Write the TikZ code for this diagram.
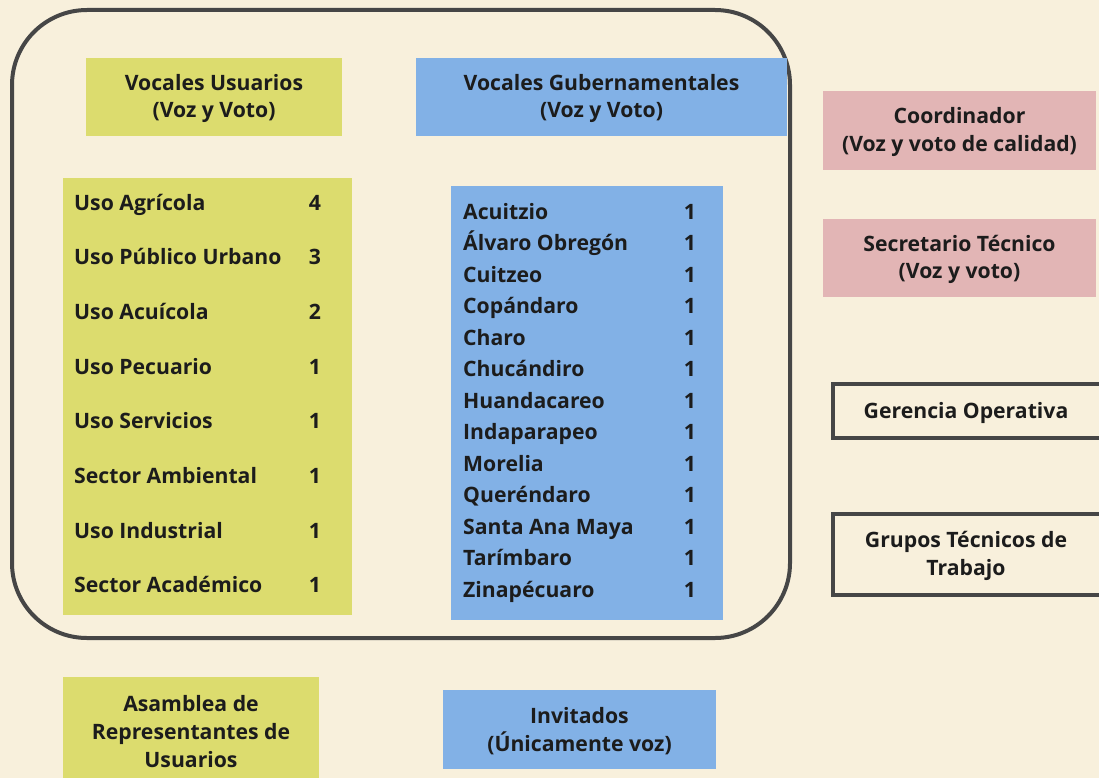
\documentclass[tikz,border=0pt]{standalone}
\usepackage{fontspec}
\setmainfont{Open Sans}
\begin{document}
\definecolor{paper}{HTML}{F8F0DC}
\definecolor{usuarios}{HTML}{DCDC6E}
\definecolor{gobierno}{HTML}{82B1E6}
\definecolor{mesa}{HTML}{E2B5B5}
\definecolor{ink}{HTML}{1C1C1C}
\definecolor{frameline}{HTML}{464646}
\begin{tikzpicture}[x=1pt,y=-1pt,
  every node/.style={font=\fontsize{21.2}{27.8}\selectfont\bfseries, text=ink, inner sep=0pt},
  ybox/.style={fill=usuarios},
  bbox/.style={fill=gobierno},
  pbox/.style={fill=mesa},
  obox/.style={draw=frameline, line width=4pt},
  label text/.style={align=center, yshift=-1.5pt},
  item/.style={anchor=west, text height=15pt, text depth=4pt, yshift=-1.5pt},
  count/.style={anchor=center, text height=15pt, text depth=4pt, yshift=-1.5pt}]
% page
\fill[paper] (0,0) rectangle (1099,778);
\useasboundingbox (0,0) rectangle (1099,778);
\begin{scope}
\clip (0,0) rectangle (1099,778);
% council frame
\node[draw=frameline, line width=4pt, rounded corners=75pt,
      minimum width=778pt, minimum height=628pt] (council) at (401,324) {};

% headings
\node[ybox, minimum width=256pt, minimum height=78pt] (vu) at (214,97) {};
\node[label text] (vut) at (vu) {Vocales Usuarios\\(Voz y Voto)};
\node[bbox, minimum width=371pt, minimum height=78pt] (vg) at (601.5,97) {};
\node[label text] (vgt) at (vg) {Vocales Gubernamentales\\(Voz y Voto)};

% user list
\node[ybox, minimum width=289pt, minimum height=437pt] (ulist) at (207.5,396.5) {};
\foreach \name/\n [count=\i from 0] in {Uso Agrícola/4, Uso Público Urbano/3,
    Uso Acuícola/2, Uso Pecuario/1, Uso Servicios/1, Sector Ambiental/1,
    Uso Industrial/1, Sector Académico/1}{
  \node[item] (u\i) at (74,{203+54.7*\i}) {\name};
  \node[count] (un\i) at (315,{203+54.7*\i}) {\n};
}

% municipality list
\node[bbox, minimum width=272pt, minimum height=434pt] (mlist) at (587,403) {};
\foreach \name [count=\i from 0] in {Acuitzio, Álvaro Obregón, Cuitzeo,
    Copándaro, Charo, Chucándiro, Huandacareo, Indaparapeo, Morelia,
    Queréndaro, Santa Ana Maya, Tarímbaro, Zinapécuaro}{
  \node[item] (m\i) at (463,{212+31.5*\i}) {\name};
  \node[count] (mn\i) at (690,{212+31.5*\i}) {1};
}

% right column
\node[pbox, minimum width=273pt, minimum height=79pt] (coord) at (959.5,130.5) {};
\node[label text] (coordt) at (coord) {Coordinador\\(Voz y voto de calidad)};
\node[pbox, minimum width=273pt, minimum height=78pt] (sec) at (959.5,258) {};
\node[label text] (sect) at (sec) {Secretario Técnico\\(Voz y voto)};
\node[obox, minimum width=290pt, minimum height=54pt] (ger) at (978,411) {};
\node[label text] (gert) at (966,411) {Gerencia Operativa};
\node[obox, minimum width=290pt, minimum height=81pt] (gru) at (978,554.5) {};
\node[label text] (grut) at (966,554.5) {Grupos Técnicos de\\Trabajo};

% bottom row
\node[ybox, minimum width=256pt, minimum height=120pt] (asam) at (191,737) {};
\node[label text] (asamt) at (191,730) {Asamblea de\\Representantes de\\Usuarios};
\node[bbox, minimum width=273pt, minimum height=79pt] (inv) at (579.5,729.5) {};
\node[label text] (invt) at (inv) {Invitados\\(Únicamente voz)};
\end{scope}
\end{tikzpicture}
\end{document}
